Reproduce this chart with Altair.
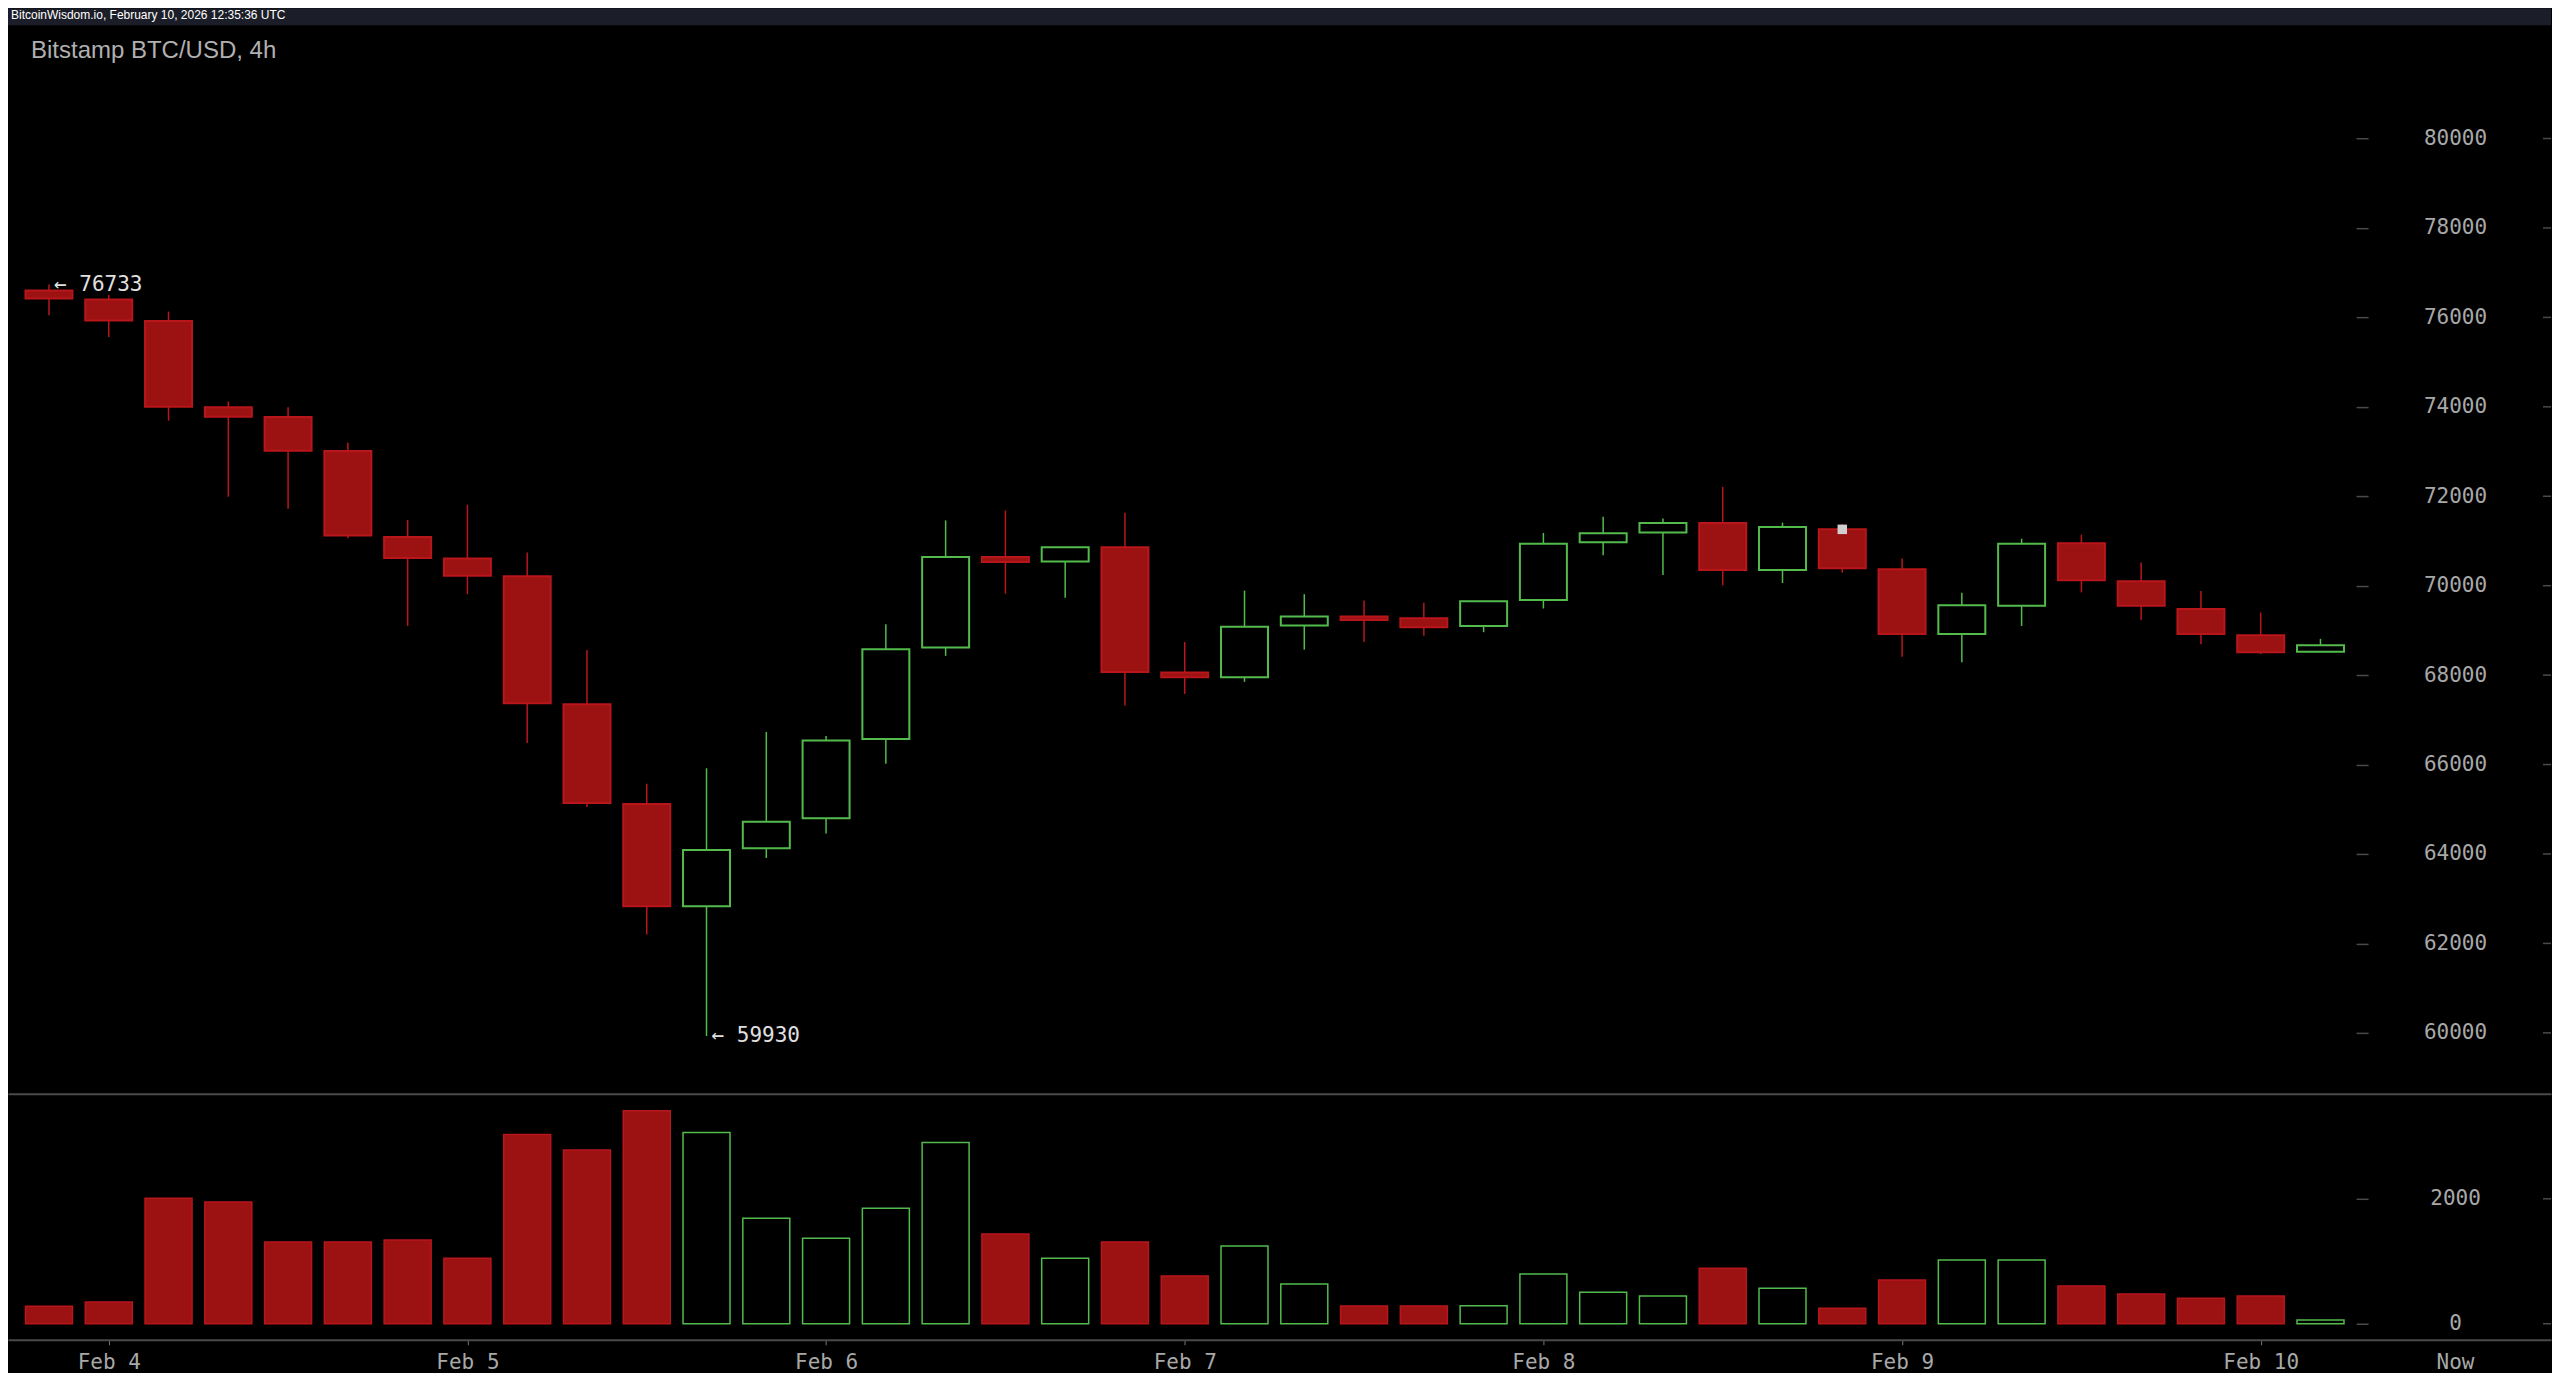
import altair as alt
import pandas as pd

HEADER = "BitcoinWisdom.io, February 10, 2026 12:35:36 UTC"
TITLE = "Bitstamp BTC/USD, 4h"
FIRST_CANDLE = "2026-02-03T20:00:00Z"
NOW_TIME = "2026-02-10T13:00:00Z"
DAY_TICKS = ["2026-02-04", "2026-02-05", "2026-02-06", "2026-02-07",
             "2026-02-08", "2026-02-09", "2026-02-10"]
PRICE_TICKS = [60000, 62000, 64000, 66000, 68000, 70000, 72000, 74000, 76000, 78000, 80000]
VOLUME_TICKS = [0, 2000]

opens = [76600, 76400, 75920, 73990, 73770, 73010, 71090, 70610, 70210, 67350,
         65120, 62830, 64130, 64800, 66570, 68620, 70640, 70540, 70860, 68060,
         67950, 69110, 69310, 69270, 69100, 69680, 70970, 71190, 71400, 70350,
         71260, 70370, 68920, 69550, 70950, 70100, 69480, 68890, 68520]
closes = [76420, 75930, 74000, 73780, 73020, 71120, 70620, 70220, 67370, 65140,
          62830, 64090, 64720, 66540, 68580, 70640, 70530, 70860, 68070, 67950,
          69080, 69310, 69230, 69070, 69650, 70940, 71170, 71400, 70350, 71310,
          70390, 68920, 69560, 70940, 70120, 69550, 68920, 68510, 68670]
highs = [76733, 76500, 76130, 74120, 73990, 73200, 71470, 71810, 70740, 68560,
         65570, 65920, 66730, 66640, 69140, 71460, 71680, 70870, 71630, 68740,
         69890, 69810, 69670, 69620, 69660, 71180, 71540, 71500, 72210, 71410,
         71380, 70610, 69840, 71050, 71140, 70520, 69880, 69400, 68810]
lows = [76050, 75560, 73690, 71990, 71720, 71060, 69100, 69810, 66480, 65050,
        62200, 59930, 63910, 64460, 66020, 68430, 69820, 69730, 67320, 67580,
        67850, 68570, 68740, 68880, 68960, 69490, 70680, 70240, 70010, 70060,
        70290, 68410, 68290, 69100, 69850, 69230, 68690, 68470, 68520]
volumes = [280, 350, 2010, 1950, 1310, 1310, 1340, 1050, 3030, 2780,
           3410, 3060, 1690, 1370, 1850, 2900, 1435, 1050, 1310, 765,
           1245, 635, 285, 285, 290, 795, 505, 445, 890, 570,
           250, 700, 1020, 1020, 605, 475, 410, 445, 60]
MARKER_INDEX = [30]
MARKER_PRICE = [71260]

# ---------------------------------------------------------------- tables
t0 = pd.Timestamp(FIRST_CANDLE)
times = [t0 + pd.Timedelta(hours=4 * i) for i in range(len(opens))]
iso = [t.strftime("%Y-%m-%dT%H:%M:%SZ") for t in times]
dirs = ["up" if c >= o else "down" for o, c in zip(opens, closes)]
df = pd.DataFrame({"t": iso, "open": opens, "close": closes, "high": highs,
                   "low": lows, "vol": volumes, "dir": dirs})

hi_i = highs.index(max(highs))
lo_i = lows.index(min(lows))
ann = pd.DataFrame({"t": [iso[hi_i], iso[lo_i]],
                    "p": [highs[hi_i], lows[lo_i]],
                    "label": [f"\u2190 {highs[hi_i]}", f"\u2190 {lows[lo_i]}"]})
marker = pd.DataFrame({"t": [iso[i] for i in MARKER_INDEX], "p": MARKER_PRICE})

def ms(ts):
    return int(pd.Timestamp(ts).value // 10**6)

# ---------------------------------------------------------------- layout
W = 2544              # whole chart width
FIRST_X = 41          # pixel centre of the first candle
STEP_PX = 59.8        # pixels per 4-hour candle
px_per_ms = STEP_PX / (4 * 3600 * 1000)
t0_ms = ms(FIRST_CANDLE)
dom0 = t0_ms - FIRST_X / px_per_ms
dom1 = t0_ms + (W - FIRST_X) / px_per_ms
now_ms = ms(NOW_TIME)
x_values = [ms(d + "T00:00:00Z") for d in DAY_TICKS] + [now_ms]
AXIS_X = 2349         # x of the right-hand tick marks
LABEL_X = 2448        # centre of the right-hand labels

MONO = "DejaVu Sans Mono"
GREEN = "#52bb4c"
RED_FILL = "#9c1212"
RED_STROKE = "#b8161b"
GRID_GREY = "#4a4a4a"
LABEL_GREY = "#a8a8a8"

xscale = alt.Scale(type="utc", domain=[dom0, dom1], padding=0)
x_price = alt.X("t:T", scale=xscale, title=None,
                axis=alt.Axis(labels=False, ticks=False, domain=True, grid=False,
                              domainColor=GRID_GREY, domainWidth=2, minExtent=0))
x_vol = alt.X("t:T", scale=xscale, title=None,
              axis=alt.Axis(values=x_values, grid=False, domain=True,
                            domainColor=GRID_GREY, domainWidth=2,
                            tickColor="#777777", tickSize=5, tickWidth=1,
                            tickOpacity={"condition": {"test": f"datum.value >= {now_ms}", "value": 0}, "value": 1},
                            labelExpr=f"datum.value >= {now_ms} ? 'Now' : utcFormat(datum.value, '%b %-d')",
                            labelFont=MONO, labelFontSize=21, labelColor=LABEL_GREY,
                            labelPadding=7, labelFlush=False, labelOverlap=False,
                            minExtent=0))

def yaxis(vals):
    return alt.Axis(orient="right", offset=AXIS_X - W, values=vals, format="d",
                    domain=False, grid=False, tickColor=GRID_GREY, tickSize=12,
                    tickWidth=1.5, labelAlign="center",
                    labelPadding=LABEL_X - AXIS_X - 12,
                    labelFont=MONO, labelFontSize=21, labelColor=LABEL_GREY,
                    labelFlush=False, minExtent=0, title=None)

pscale = alt.Scale(domain=[58636, 82533], zero=False, nice=False)
vscale = alt.Scale(domain=[-256, 3680], zero=False, nice=False)

def yp(field):
    return alt.Y(field, scale=pscale, axis=yaxis(PRICE_TICKS), title=None)

def yv(field):
    return alt.Y(field, scale=vscale, axis=yaxis(VOLUME_TICKS), title=None)

stroke_scale = alt.Scale(domain=["up", "down"], range=[GREEN, RED_STROKE])
fill_scale = alt.Scale(domain=["up", "down"], range=["#000000", RED_FILL])

# ---------------------------------------------------------------- header
head_df = pd.DataFrame({"s": [HEADER]})
header = alt.layer(
    alt.Chart(head_df).mark_rect(color="#1b1e28").encode(
        x=alt.value(0), x2=alt.value(W), y=alt.value(0), y2=alt.value(17)),
    alt.Chart(head_df).mark_text(align="left", baseline="alphabetic", font="Liberation Sans",
                                 fontSize=12, color="#ffffff").encode(
        x=alt.value(3), y=alt.value(10.5), text="s:N"),
).properties(width=W, height=17)

# ---------------------------------------------------------------- price
base = alt.Chart(df)
wicks = base.mark_rule(strokeWidth=1.5).encode(
    x=x_price, y=yp("low:Q"), y2="high:Q",
    color=alt.Color("dir:N", scale=stroke_scale, legend=None))
bodies = base.mark_bar(size=47, strokeWidth=2).encode(
    x=x_price, y=yp("open:Q"), y2="close:Q",
    fill=alt.Fill("dir:N", scale=fill_scale, legend=None),
    stroke=alt.Stroke("dir:N", scale=stroke_scale, legend=None))
mark = alt.Chart(marker).mark_square(size=90, color="#cfcfcf", opacity=1).encode(
    x=x_price, y=yp("p:Q"))
notes = alt.Chart(ann).mark_text(align="left", baseline="middle", dx=5, font=MONO,
                                 fontSize=21, color="#e0e0e0").encode(
    x=x_price, y=yp("p:Q"), text="label:N")
title = alt.Chart(pd.DataFrame({"s": [TITLE]})).mark_text(
    align="left", baseline="alphabetic", font="Liberation Sans", fontSize=24,
    color="#b0b0b0").encode(x=alt.value(23), y=alt.value(33), text="s:N")
edge_p = alt.Chart(pd.DataFrame({"v": PRICE_TICKS})).mark_rule(
    color=GRID_GREY, strokeWidth=1.5).encode(
    x=alt.value(W - 8), x2=alt.value(W), y=yp("v:Q"))
price = alt.layer(wicks, bodies, mark, notes, title, edge_p).properties(width=W, height=1069)

# ---------------------------------------------------------------- volume
vbars = base.mark_bar(size=47, strokeWidth=1.5).encode(
    x=x_vol, y=yv("vol:Q"), y2=alt.datum(0),
    fill=alt.Fill("dir:N", scale=fill_scale, legend=None),
    stroke=alt.Stroke("dir:N", scale=stroke_scale, legend=None))
edge_v = alt.Chart(pd.DataFrame({"v": VOLUME_TICKS})).mark_rule(
    color=GRID_GREY, strokeWidth=1.5).encode(
    x=alt.value(W - 8), x2=alt.value(W), y=yv("v:Q"))
volume = alt.layer(vbars, edge_v).properties(width=W, height=246)

chart = alt.vconcat(header, price, volume, spacing=0).properties(
    background="#000000",
    padding={"left": 0, "top": 0, "right": 0, "bottom": 0},
).configure_view(stroke=None)

chart.save("out.html", embed_options={"renderer": "svg", "actions": False})
